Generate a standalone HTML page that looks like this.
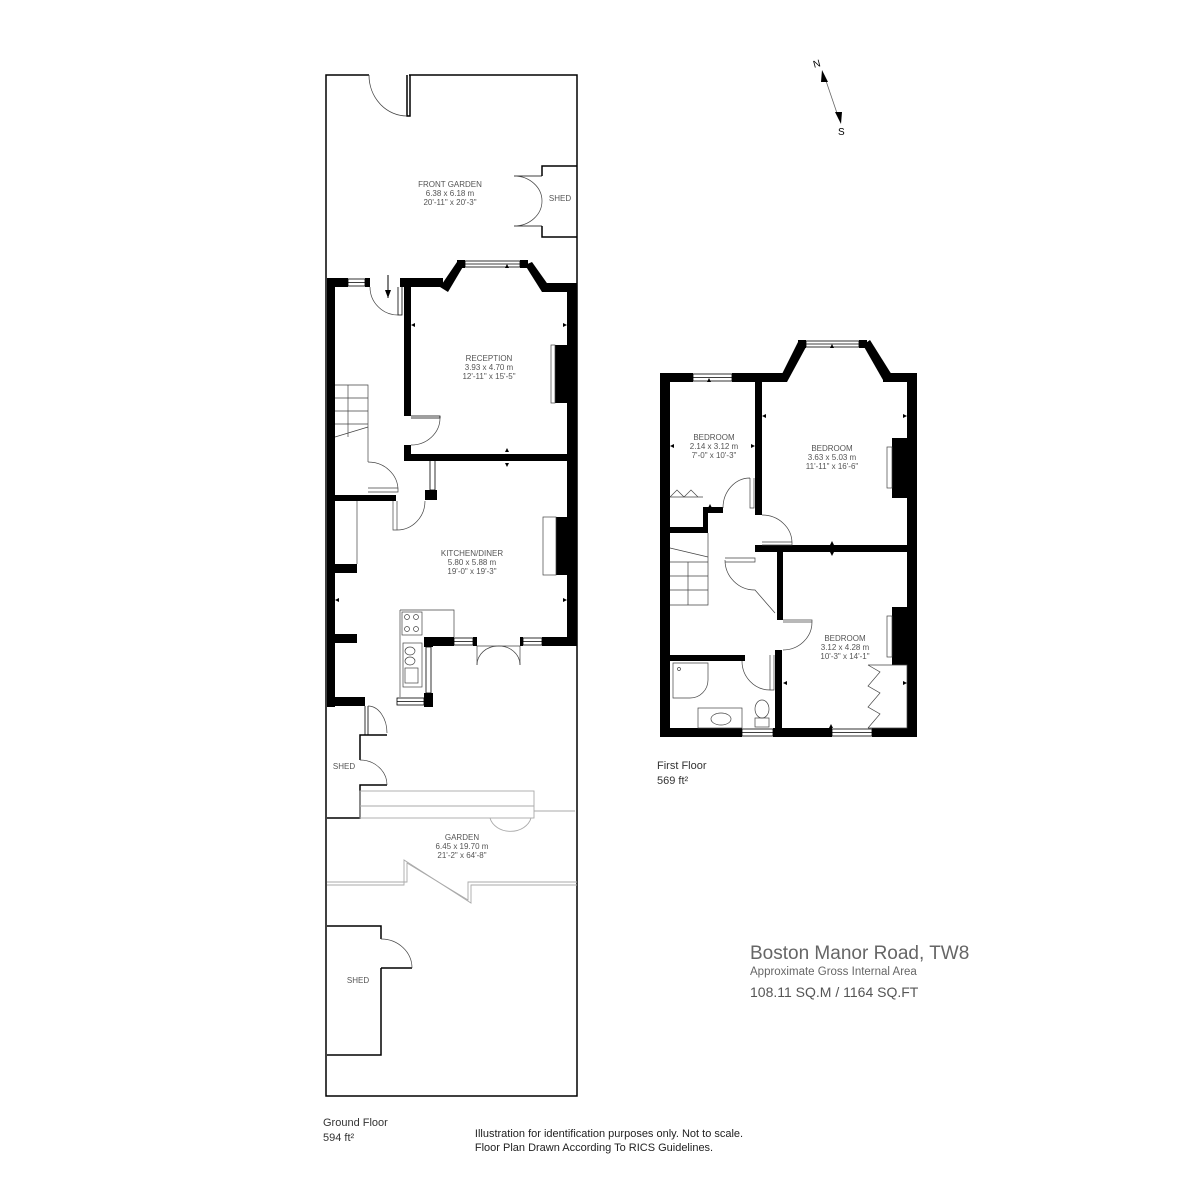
<!DOCTYPE html>
<html><head><meta charset="utf-8"><style>
html,body{margin:0;padding:0;background:#fff}
svg{display:block}
text{font-family:"Liberation Sans",sans-serif;fill:#555}
.l{font-size:8px;text-anchor:middle}
</style></head><body>
<svg width="1200" height="1200" viewBox="0 0 1200 1200" xmlns="http://www.w3.org/2000/svg">
<g fill="none" stroke="#000" stroke-width="1.5">
<path d="M369 75 H326 V1096 H577 V75 H409"/>
<path d="M407 75 V116 H410 V75"/>
<path d="M369 75 A38 41 0 0 0 407 116" stroke-width="0.8" stroke="#444"/>
<path d="M577 166 H542 V176 M542 226 V237 H577"/>
<path d="M514 176 H542 M514 226 H542" stroke-width="0.8"/>
<path d="M514 176 A28 25 0 0 1 542 201 M514 226 A28 25 0 0 0 542 201" stroke-width="0.7" stroke="#444"/>
<path d="M327 818 H360 V785 H387 M360 760 V735 H387" />
<path d="M360 760 A27 25 0 0 1 387 785" stroke-width="0.7" stroke="#444"/>
<path d="M365 706 V735 H368 V706" stroke-width="0.8"/>
<path d="M368 706 A19 27 0 0 1 387 733" stroke-width="0.7" stroke="#444"/>
<g stroke="#aaa" stroke-width="0.9">
<rect x="360" y="791" width="174" height="27"/>
<path d="M360 806 H534 M534 811 H575"/>
<path d="M490 818 A21 17 0 0 0 531 818"/>
<path d="M327 882 H407 V863 L468 900 V882 H577"/>
<path d="M327 885 H404 V860 L471 903 V885 H577"/>
</g>
<path d="M327 926 H381 V939 M381 968 H412 M381 968 V1055 H327"/>
<path d="M381 939 A31 29 0 0 1 412 968" stroke-width="0.7" stroke="#444"/>
</g>

<g fill="#000">
<rect x="327" y="278" width="8" height="429"/>
<rect x="327" y="278" width="21" height="9"/>
<rect x="365" y="278" width="5" height="9"/>
<rect x="400" y="278" width="43" height="9"/>
<rect x="404" y="287" width="7" height="129"/>
<polygon points="440,287 457,262 464,265 448,292"/>
<rect x="457" y="260" width="8" height="8"/>
<rect x="520" y="260" width="8" height="8"/>
<polygon points="525,265 532,262 549,286 542,292"/>
<rect x="542" y="283" width="35" height="9"/>
<rect x="567" y="283" width="10" height="355"/>
<rect x="404" y="445" width="7" height="15"/>
<rect x="404" y="454" width="173" height="7"/>
<rect x="555" y="345" width="13" height="58"/>
<rect x="556" y="517" width="12" height="58"/>
<rect x="425" y="490" width="12" height="10"/>
<rect x="335" y="495" width="61" height="6"/>
<rect x="327" y="564" width="30" height="9"/>
<rect x="327" y="634" width="30" height="9"/>
<rect x="424" y="637" width="30" height="9"/>
<rect x="473" y="637" width="4" height="9"/>
<rect x="520" y="637" width="3" height="9"/>
<rect x="542" y="637" width="35" height="9"/>
<rect x="424" y="637" width="9" height="10"/>
<rect x="424" y="693" width="9" height="14"/>
<rect x="327" y="697" width="38" height="9"/>
</g>
<g fill="none" stroke="#000" stroke-width="0.8">
<rect x="348" y="279" width="17" height="7"/><path d="M348 282.5 H365"/>
<rect x="465" y="261" width="55" height="6"/><path d="M465 264 H520"/>
<rect x="454" y="638" width="19" height="7"/><path d="M454 641.5 H473"/>
<rect x="523" y="638" width="19" height="7"/><path d="M523 641.5 H542"/>
<rect x="397" y="698" width="27" height="7"/><path d="M397 701.5 H424"/>
<rect x="426" y="647" width="5" height="46"/>
<rect x="430" y="460" width="5" height="30"/>
<path d="M398 287 V315 H402 V287"/>
<path d="M370 287 A28 28 0 0 0 398 315" stroke="#444" stroke-width="0.7"/>
<path d="M411 416 H440 V418 H411"/>
<path d="M440 418 A29 27 0 0 1 411 445" stroke="#444" stroke-width="0.7"/>
<g stroke="#444" stroke-width="0.7">
<path d="M335 385 H368 V462 M335 398 H368 M335 411 H368 M335 424 H368 M348 385 V437 M335 437 L368 427"/>
<path d="M368 462 A30 28 0 0 1 398 490 M368 488 H398 V492 H368"/>
<path d="M393 501 V530 H397 V501 M397 530 A28 29 0 0 0 425 501"/>
<path d="M357 501 V564"/>
<rect x="551" y="345" width="4" height="58"/>
<rect x="543" y="517" width="13" height="58"/>
<path d="M400 637 V697 M400 610 H454 V637 M400 610 V637"/>
<rect x="402" y="612" width="20" height="23"/>
<circle cx="407" cy="617" r="2.5"/><circle cx="416" cy="617" r="2.5"/><circle cx="407" cy="629" r="2.5"/><circle cx="416" cy="629" r="2.5"/>
<rect x="403" y="643" width="19" height="44"/>
<ellipse cx="410" cy="651" rx="5" ry="4"/><ellipse cx="410" cy="661" rx="5" ry="4"/>
<rect x="405" y="668" width="13" height="15"/>
<path d="M477 646 V665 M520 646 V665 M477 646 H520"/>
<path d="M477 665 A21 19 0 0 1 498 646 M520 665 A21 19 0 0 0 498 646"/>
</g>
<path d="M388 275 V298" stroke="#000" stroke-width="1"/>
</g>
<g fill="#000">
<polygon points="385,290 391,290 388,298"/>
<polygon points="505,268 509,268 507,264"/>
<polygon points="505,452 509,452 507,448"/>
<polygon points="505,463 509,463 507,467"/>
<polygon points="411,325 415,323 415,327"/>
<polygon points="567,325 563,323 563,327"/>
<polygon points="335,600 339,598 339,602"/>
<polygon points="567,600 563,598 563,602"/>
</g>

<g fill="#000">
<rect x="660" y="373" width="10" height="364"/>
<rect x="660" y="373" width="33" height="9"/>
<rect x="732" y="373" width="53" height="9"/>
<polygon points="778,382 798,342 806,347 787,382"/>
<rect x="798" y="340" width="8" height="8"/>
<rect x="859" y="340" width="8" height="8"/>
<polygon points="863,345 870,340 892,375 883,380"/>
<rect x="883" y="373" width="34" height="9"/>
<rect x="907" y="373" width="10" height="364"/>
<rect x="660" y="728" width="82" height="9"/>
<rect x="773" y="728" width="59" height="9"/>
<rect x="872" y="728" width="45" height="9"/>
<rect x="755" y="382" width="7" height="133"/>
<rect x="703" y="507" width="20" height="6"/>
<rect x="703" y="507" width="5" height="26"/>
<rect x="670" y="527" width="38" height="6"/>
<rect x="755" y="545" width="162" height="7"/>
<rect x="777" y="552" width="6" height="68"/>
<rect x="775" y="650" width="7" height="87"/>
<rect x="670" y="655" width="75" height="6"/>
<rect x="892" y="438" width="15" height="60"/>
<rect x="892" y="607" width="15" height="58"/>
</g>
<g fill="none" stroke="#000" stroke-width="0.8">
<rect x="693" y="374" width="39" height="7"/><path d="M693 377.5 H732"/>
<rect x="806" y="341" width="53" height="6"/><path d="M806 344 H859"/>
<rect x="742" y="729" width="31" height="7"/><path d="M742 732.5 H773"/>
<rect x="832" y="729" width="40" height="7"/><path d="M832 732.5 H872"/>
<g stroke="#444" stroke-width="0.7">
<rect x="887" y="447" width="5" height="41"/>
<rect x="887" y="616" width="5" height="41"/>
<path d="M750 478 V508 H754 V478 M750 478 A27 30 0 0 0 723 508"/>
<path d="M762 542 H792 V545 H762 M762 515 A30 28 0 0 1 792 543"/>
<path d="M725 558 H755 V562 H725 M725 560 A30 30 0 0 0 755 590 L775 613"/>
<path d="M783 620 H812 V622 H783 M812 622 A29 28 0 0 1 783 650"/>
<path d="M770 655 V690 H774 V655 M742 661 A28 29 0 0 0 770 690"/>
<path d="M670 497 L677 490 L684 497 L691 490 L698 497 M670 497 H703"/>
<path d="M708 533 V605 H670 M670 548 L708 557 M670 562 H708 M670 576 H708 M670 590 H708 M688 562 V605"/>
<path d="M673 663 H708 V680 A18 18 0 0 1 690 698 H673 Z"/>
<circle cx="679" cy="669" r="1.5"/>
<rect x="698" y="708" width="44" height="20"/>
<ellipse cx="721" cy="719" rx="10" ry="6"/>
<ellipse cx="762" cy="709" rx="7" ry="9"/>
<rect x="755" y="718" width="14" height="9"/>
<path d="M868 665 H907 V728 H868 M868 665 L880 672 L868 686 L880 693 L868 707 L880 714 L868 728"/>
</g>
</g>
<g fill="#000">
<polygon points="707,382 711,382 709,378"/>
<polygon points="830,348 834,348 832,344"/>
<polygon points="830,545 834,545 832,541"/>
<polygon points="830,552 834,552 832,556"/>
<polygon points="829,728 833,728 831,724"/>
<polygon points="708,508 712,508 710,504"/>
<polygon points="670,446 674,444 674,448"/>
<polygon points="755,446 751,444 751,448"/>
<polygon points="762,416 766,414 766,418"/>
<polygon points="907,416 903,414 903,418"/>
<polygon points="783,683 787,681 787,685"/>
<polygon points="907,683 903,681 903,685"/>
</g>

<path d="M824 75 L839 119" stroke="#666" stroke-width="0.8"/>
<polygon points="822,70 828,82 821,82" fill="#000"/>
<polygon points="841,124 835,112 842,112" fill="#000"/>
<text x="813" y="67" font-size="10" transform="rotate(-15 817 63)" style="fill:#000">N</text>
<text x="838" y="135" font-size="10" style="fill:#000">S</text>

<text class="l" x="450" y="187">FRONT GARDEN</text>
<text class="l" x="450" y="196">6.38 x  6.18 m</text>
<text class="l" x="450" y="205">20'-11" x  20'-3"</text>
<text class="l" x="560" y="201">SHED</text>
<text class="l" x="489" y="361">RECEPTION</text>
<text class="l" x="489" y="370">3.93 x 4.70 m</text>
<text class="l" x="489" y="379">12'-11" x 15'-5"</text>
<text class="l" x="472" y="556">KITCHEN/DINER</text>
<text class="l" x="472" y="565">5.80 x 5.88 m</text>
<text class="l" x="472" y="574">19'-0" x 19'-3"</text>
<text class="l" x="344" y="769">SHED</text>
<text class="l" x="462" y="840">GARDEN</text>
<text class="l" x="462" y="849">6.45 x  19.70 m</text>
<text class="l" x="462" y="858">21'-2" x  64'-8"</text>
<text class="l" x="358" y="983">SHED</text>
<text class="l" x="714" y="440">BEDROOM</text>
<text class="l" x="714" y="449">2.14 x 3.12 m</text>
<text class="l" x="714" y="458">7'-0" x 10'-3"</text>
<text class="l" x="832" y="451">BEDROOM</text>
<text class="l" x="832" y="460">3.63 x 5.03 m</text>
<text class="l" x="832" y="469">11'-11" x 16'-6"</text>
<text class="l" x="845" y="641">BEDROOM</text>
<text class="l" x="845" y="650">3.12 x 4.28 m</text>
<text class="l" x="845" y="659">10'-3" x 14'-1"</text>

<text x="323" y="1126" font-size="11" style="fill:#333">Ground Floor</text>
<text x="323" y="1141" font-size="11" style="fill:#333">594 ft²</text>
<text x="657" y="769" font-size="11" style="fill:#333">First Floor</text>
<text x="657" y="784" font-size="11" style="fill:#333">569 ft²</text>
<text x="750" y="959" font-size="19" style="fill:#666">Boston Manor Road, TW8</text>
<text x="750" y="975" font-size="11.5" style="fill:#666">Approximate Gross Internal Area</text>
<text x="750" y="997" font-size="14" style="fill:#555">108.11 SQ.M / 1164 SQ.FT</text>
<text x="609" y="1137" font-size="11" text-anchor="middle" style="fill:#222">Illustration for identification purposes only. Not to scale.</text>
<text x="594" y="1151" font-size="11" text-anchor="middle" style="fill:#222">Floor Plan Drawn According To RICS Guidelines.</text>
</svg>
</body></html>
